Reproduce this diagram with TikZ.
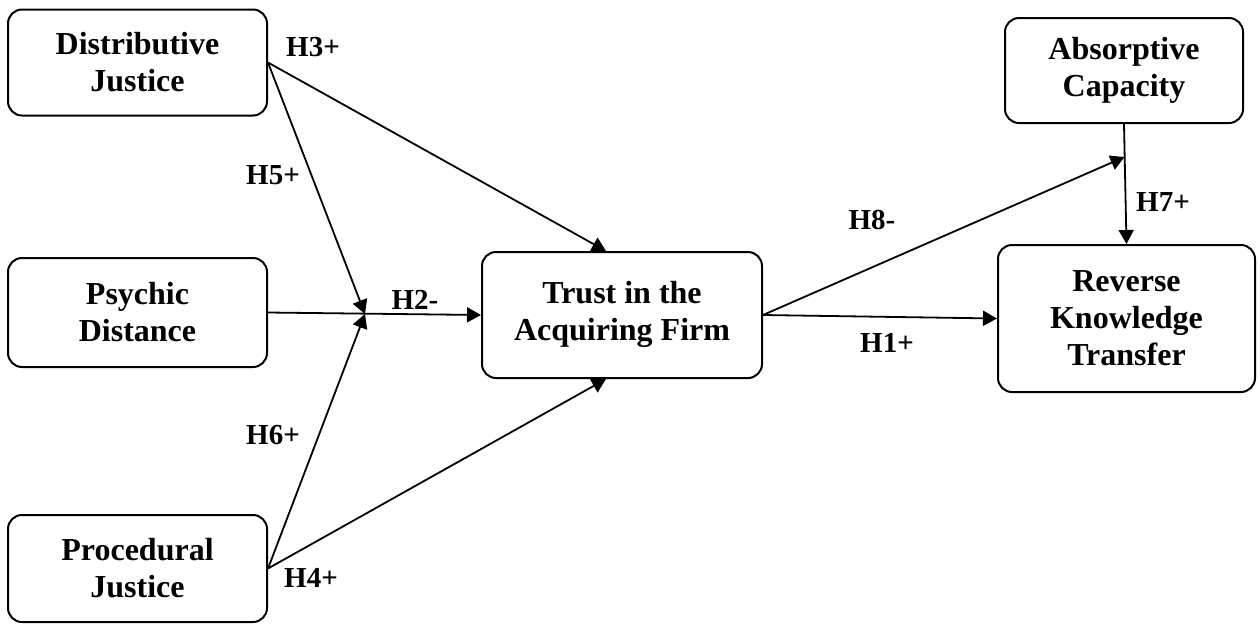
\documentclass[tikz,border=0pt]{standalone}
\usepackage{fontspec}
\setmainfont{Liberation Serif}
\usetikzlibrary{arrows.meta,calc}
\begin{document}
\begin{tikzpicture}[x=0.5pt,y=-0.5pt,
  box/.style={draw,line width=1pt,rounded corners=7pt,inner sep=0pt,align=center,
    font=\fontsize{16}{18.5}\selectfont\bfseries},
  conn/.style={line width=0.9pt,-{Triangle[length=7pt,width=7.5pt]}},
  hyp/.style={font=\fontsize{14.5}{17}\selectfont\bfseries,inner sep=0pt}]
\useasboundingbox (0,0) rectangle (1260,623);
\node[box,minimum width=129.5pt,minimum height=53pt] (DJ) at (137.5,62.5) {Distributive\\Justice};
\node[box,minimum width=129.5pt,minimum height=54.5pt] (PD) at (137.5,312.5) {Psychic\\Distance};
\node[box,minimum width=129.5pt,minimum height=53.5pt] (PJ) at (137.5,568.5) {Procedural\\Justice};
\node[box,minimum width=140pt,minimum height=63pt] (T) at (622,315) {\raisebox{3pt}{\begin{tabular}{@{}c@{}}Trust in the\\Acquiring Firm\end{tabular}}};
\node[box,minimum width=119pt,minimum height=52.5pt] (AC) at (1124,70.5) {Absorptive\\Capacity};
\node[box,minimum width=128.5pt,minimum height=73.5pt] (RKT) at (1126.5,318.5) {Reverse\\Knowledge\\Transfer};
\coordinate (J) at (365,314);
\coordinate (K) at (1124.5,157);
\draw[conn] (DJ.east) -- ([xshift=-8pt]T.north);
\draw[conn] (DJ.east) -- (J);
\draw[conn] (PD.east) -- (T.west);
\draw[conn] (PJ.east) -- (J);
\draw[conn] (PJ.east) -- ([xshift=-8pt]T.south);
\draw[conn] (T.east) -- (RKT.west);
\draw[conn] (T.east) -- (K);
\draw[conn] (AC.south) -- (RKT.north);
\node[hyp] (h3) at (313,47) {H3+};
\node[hyp] (h5) at (273,175) {H5+};
\node[hyp] (h2) at (415,300) {H2-};
\node[hyp] (h6) at (273,435) {H6+};
\node[hyp] (h4) at (311,578) {H4+};
\node[hyp] (h8) at (872,220) {H8-};
\node[hyp] (h1) at (887,343) {H1+};
\node[hyp] (h7) at (1163,202) {H7+};
\end{tikzpicture}
\end{document}
